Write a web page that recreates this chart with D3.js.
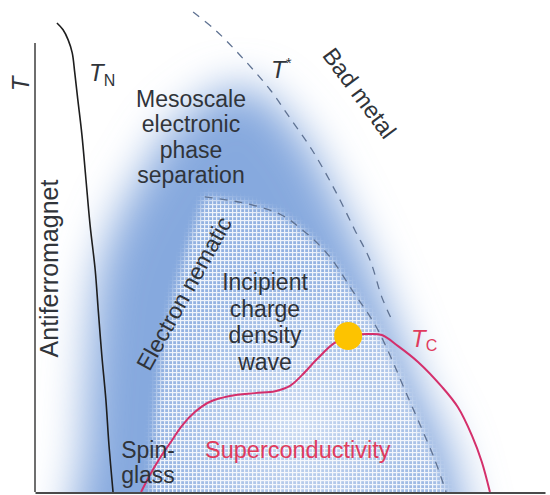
<!DOCTYPE html>
<html>
<head>
<meta charset="utf-8">
<script src="https://cdn.jsdelivr.net/npm/d3@7"></script>
<style>
  html, body { margin: 0; padding: 0; background: #fff; }
  svg { display: block; }
  text { font-family: "Liberation Sans", Arial, Helvetica, sans-serif; }
</style>
</head>
<body>
<div id="chart"></div>
<script>
// Schematic phase diagram: doping (x, arbitrary units 0-100) vs temperature (y, 0-100)

// Néel temperature line
const tnCurve = [[4.3,97.7],[5.5,96.3],[6.5,94.2],[7.3,91.5],[7.8,87.3],[8.4,81.7],[9.2,74.4],
  [10.0,65.0],[10.8,55.6],[11.8,46.3],[12.4,37.9],[13.1,28.5],[13.9,19.2],[14.5,9.8],[15.3,0]];

// Pseudogap crossover T*
const tStarCurve = [[31.0,100.0],[35.3,96.3],[40.2,91.0],[46.1,83.8],[50.0,77.9],[54.3,71.3],
  [58.8,62.9],[62.7,54.6],[65.7,48.3],[68.0,40.6],[70.0,35.8]];

// Electron-nematic dome boundary
const nematicCurve = [[33.3,61.5],[37.8,60.8],[41.8,60.0],[48.0,57.9],[52.0,55.0],[57.5,49.4],
  [62.4,41.7],[66.7,34.8],[69.6,28.5],[72.5,21.3],[75.5,14.0],[78.4,6.7],[80.6,0]];

// Superconducting Tc dome
const tcCurve = [[20.8,0],[22.5,3.5],[24.5,7.1],[26.5,10.2],[28.8,13.8],[31.4,16.7],[34.3,18.8],
  [38.2,20.0],[43.1,20.6],[47.1,21.0],[50.0,22.1],[52.4,24.4],[55.5,27.9],[58.4,30.8],[61.4,32.5],
  [65.3,32.9],[68.0,32.7],[71.2,30.4],[75.1,27.1],[79.8,21.9],[82.9,17.7],[85.7,11.7],[87.6,6.3],[89.2,0]];

// Marker at the Tc shoulder
const peakPoint = [61.4, 32.5];

// Extent of the shaded correlated region (outline, blurred when drawn)
const haloOutline = [[8.8,-14.2],[9.6,8.8],[10.8,29.6],[12.7,46.3],[17.1,58.8],[22.2,68.1],[26.5,75.4],
  [32.4,80.6],[38.2,84.2],[44.1,83.3],[49.4,77.9],[53.9,71.7],[58.8,61.9],[63.3,52.5],[67.6,42.1],
  [71.6,31.7],[75.5,21.3],[80.4,10.8],[83.3,0],[84.3,-14.2]];

// Left flank of the nematic dome, closing it down to the axis
const domeLeftFlank = [[80.6,-14],[22.5,-14],[22.5,0],[23.5,15.0],[24.9,29.6],[27.5,42.1],[30.4,52.5]];

// Text labels
const regionLines = ["Mesoscale","electronic","phase","separation"];
const cdwLines = ["Incipient","charge","density","wave"];
const glassLines = ["Spin-","glass"];

const W = 550, H = 495;
const x = d3.scaleLinear().domain([0, 100]).range([35, 545]);
const y = d3.scaleLinear().domain([0, 100]).range([492, 12]);

const svg = d3.select("#chart").append("svg").attr("width", W).attr("height", H);
const defs = svg.append("defs");

defs.append("clipPath").attr("id", "plotClip")
  .append("rect").attr("x", x(0)).attr("y", 0).attr("width", x(100) - x(0) + 5).attr("height", y(0));

const haloBlur = defs.append("filter").attr("id", "haloBlur")
  .attr("filterUnits", "userSpaceOnUse").attr("x", -200).attr("y", -200).attr("width", 1000).attr("height", 1000);
haloBlur.append("feGaussianBlur").attr("stdDeviation", 22);

const domeBlur = defs.append("filter").attr("id", "domeBlur")
  .attr("filterUnits", "userSpaceOnUse").attr("x", -200).attr("y", -200).attr("width", 1000).attr("height", 1000);
domeBlur.append("feGaussianBlur").attr("stdDeviation", 5);

// fine white grid used inside the nematic dome
const grid = defs.append("pattern").attr("id", "grid").attr("patternUnits", "userSpaceOnUse")
  .attr("width", 4).attr("height", 4);
grid.append("rect").attr("x", 0).attr("y", 0).attr("width", 4).attr("height", 1.2).attr("fill", "#fff");
grid.append("rect").attr("x", 0).attr("y", 0).attr("width", 1.2).attr("height", 4).attr("fill", "#fff");

const glow = defs.append("radialGradient").attr("id", "domeGlow").attr("gradientUnits", "userSpaceOnUse")
  .attr("cx", x(52)).attr("cy", y(14)).attr("r", 150);
glow.append("stop").attr("offset", 0).attr("stop-color", "#fff").attr("stop-opacity", 0.5);
glow.append("stop").attr("offset", 0.6).attr("stop-color", "#fff").attr("stop-opacity", 0.22);
glow.append("stop").attr("offset", 1).attr("stop-color", "#fff").attr("stop-opacity", 0);

const lineSmooth = d3.line().x(d => x(d[0])).y(d => y(d[1])).curve(d3.curveCatmullRom.alpha(0.5));
const area = d3.line().x(d => x(d[0])).y(d => y(d[1])).curve(d3.curveCatmullRomClosed.alpha(0.5));
const poly = d3.line().x(d => x(d[0])).y(d => y(d[1])).curve(d3.curveLinearClosed);

const domeShape = nematicCurve.concat(domeLeftFlank);
const mask = defs.append("mask").attr("id", "domeMask").attr("maskUnits", "userSpaceOnUse")
  .attr("x", 0).attr("y", 0).attr("width", W).attr("height", H);
mask.append("path").attr("d", poly(domeShape)).attr("fill", "#fff").attr("filter", "url(#domeBlur)");

const plot = svg.append("g").attr("clip-path", "url(#plotClip)");

// blue shaded region
plot.append("path").attr("d", area(haloOutline)).attr("fill", "#86a9de").attr("filter", "url(#haloBlur)");

// nematic dome: lighter core plus grid texture
const dome = plot.append("g").attr("mask", "url(#domeMask)");
dome.append("rect").attr("x", 0).attr("y", 0).attr("width", W).attr("height", H)
  .attr("fill", "#fff").attr("opacity", 0.12);
dome.append("rect").attr("x", 0).attr("y", 0).attr("width", W).attr("height", H)
  .attr("fill", "url(#domeGlow)");
dome.append("rect").attr("x", 0).attr("y", 0).attr("width", W).attr("height", H)
  .attr("fill", "url(#grid)").attr("opacity", 0.85);

// dashed crossover lines
[tStarCurve, nematicCurve].forEach(c => {
  plot.append("path").attr("d", lineSmooth(c)).attr("fill", "none")
    .attr("stroke", "#5f7292").attr("stroke-width", 1.3).attr("stroke-dasharray", "8,7");
});

// Néel line
plot.append("path").attr("d", lineSmooth(tnCurve)).attr("fill", "none")
  .attr("stroke", "#1e1e1e").attr("stroke-width", 1.6);

// Tc dome
plot.append("path").attr("d", lineSmooth(tcCurve)).attr("fill", "none")
  .attr("stroke", "#d42f6b").attr("stroke-width", 2);

// marker
svg.append("circle").attr("cx", x(peakPoint[0])).attr("cy", y(peakPoint[1])).attr("r", 14)
  .attr("fill", "#fdc300");

// axes (plain lines, no ticks)
const xAxis = d3.axisBottom(x).tickValues([]).tickSizeOuter(0);
const yAxis = d3.axisLeft(y).tickValues([]).tickSizeOuter(0);
svg.append("g").attr("transform", `translate(0,${y(0) + 0.5})`).call(xAxis)
  .select(".domain").attr("stroke", "#4a4a4a").attr("stroke-width", 2);
svg.append("g").attr("transform", `translate(${x(0)},0)`).call(yAxis)
  .call(g => g.select(".domain").attr("d", `M0,43V${y(0)}`))
  .select(".domain").attr("stroke", "#4a4a4a").attr("stroke-width", 1.6);

const ink = "#30343a";
const red = "#e03c5e";

function multiline(lines, cx, y0, dy, size, color) {
  const t = svg.append("text").attr("text-anchor", "middle").attr("font-size", size).attr("fill", color);
  lines.forEach((s, i) => t.append("tspan").attr("x", cx).attr("y", y0 + i * dy).text(s));
  return t;
}

multiline(regionLines, 191, 107, 25.3, 23, ink);
multiline(cdwLines, 265, 290, 26.5, 23, ink);
multiline(glassLines, 148, 458, 25, 23, ink);

svg.append("text").attr("x", 205).attr("y", 458).attr("font-size", 23.5).attr("fill", red)
  .text("Superconductivity");

svg.append("text").attr("transform", "translate(58,268.5) rotate(-90)").attr("text-anchor", "middle")
  .attr("font-size", 25).attr("fill", ink).text("Antiferromagnet");

svg.append("text").attr("transform", "translate(191,297.4) rotate(-61)").attr("text-anchor", "middle")
  .attr("font-size", 23).attr("fill", ink).text("Electron nematic");

svg.append("text").attr("transform", "translate(353,98) rotate(53.5)").attr("text-anchor", "middle")
  .attr("font-size", 23.5).attr("fill", ink).text("Bad metal");

// axis title
svg.append("text").attr("transform", "translate(29,84) rotate(-90)").attr("text-anchor", "middle")
  .attr("font-size", 24).attr("font-style", "italic").attr("fill", ink).text("T");

// curve names
const tn = svg.append("text").attr("x", 89).attr("y", 81).attr("fill", ink);
tn.append("tspan").attr("font-size", 24).attr("font-style", "italic").text("T");
tn.append("tspan").attr("font-size", 16).attr("dy", 5).text("N");

const ts = svg.append("text").attr("x", 271).attr("y", 78).attr("fill", ink);
ts.append("tspan").attr("font-size", 24).attr("font-style", "italic").text("T");
ts.append("tspan").attr("font-size", 15).attr("dy", -10).text("*");

const tc = svg.append("text").attr("x", 411).attr("y", 347).attr("fill", red);
tc.append("tspan").attr("font-size", 24).attr("font-style", "italic").text("T");
tc.append("tspan").attr("font-size", 16).attr("dy", 4).text("C");
</script>
</body>
</html>
